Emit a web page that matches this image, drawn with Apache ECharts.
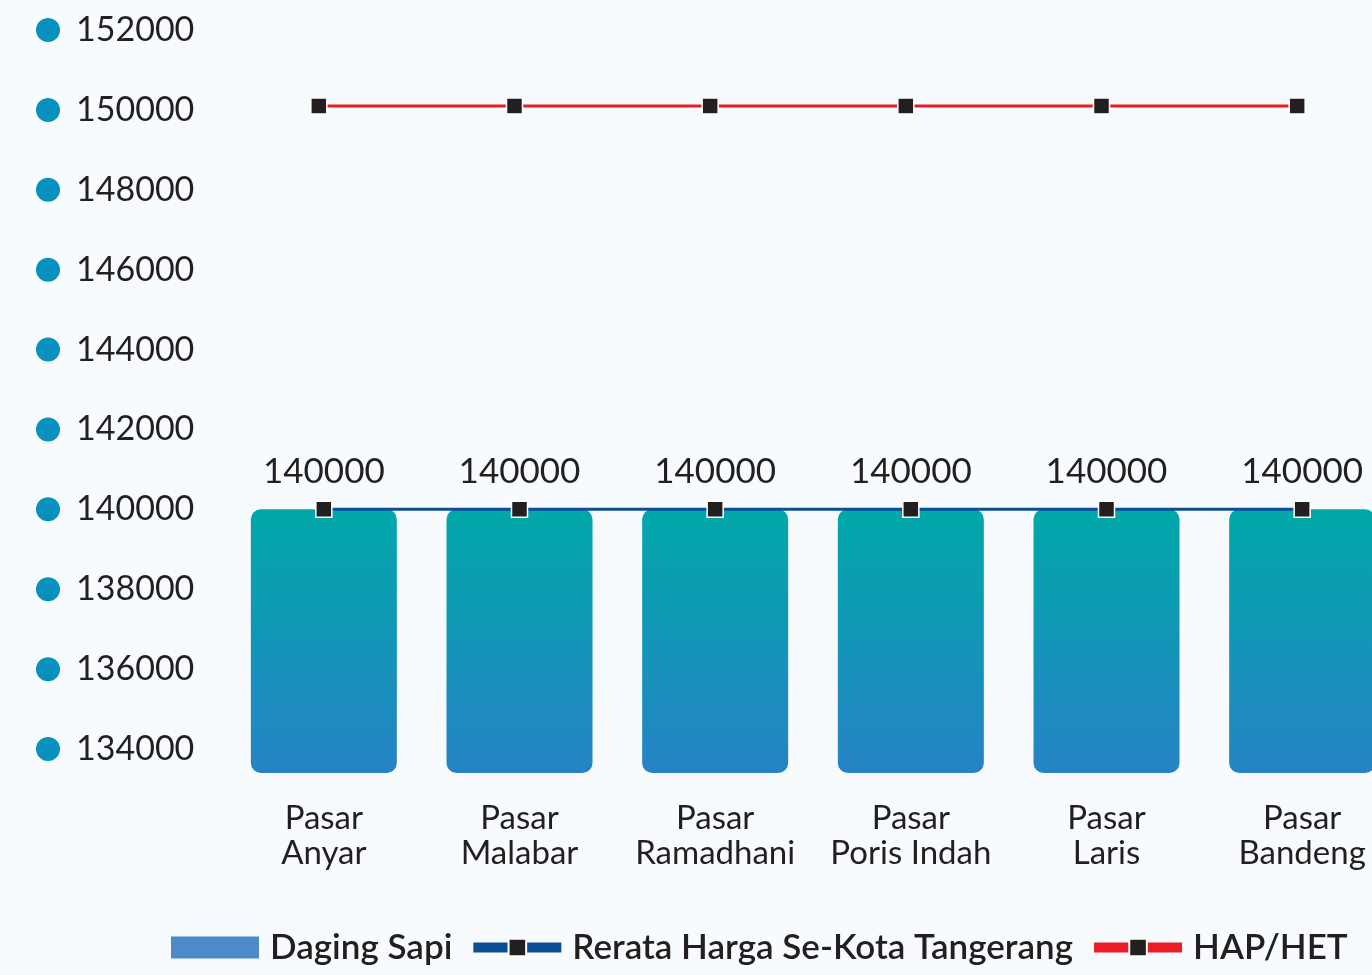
<!DOCTYPE html>
<html>
<head>
<meta charset="utf-8">
<script src="https://cdn.jsdelivr.net/npm/echarts@6/dist/echarts.min.js"></script>
<style>
  html, body { margin: 0; padding: 0; background: #f7fbfe; }
  #chart { width: 1372px; height: 975px; }
</style>
</head>
<body>
<div id="chart"></div>
<script>
const markets = ['Pasar\nAnyar', 'Pasar\nMalabar', 'Pasar\nRamadhani', 'Pasar\nPoris Indah', 'Pasar\nLaris', 'Pasar\nBandeng']
const dagingSapi = [140000, 140000, 140000, 140000, 140000, 140000]
const rerataKota = [140000, 140000, 140000, 140000, 140000, 140000]
const hapHet = [150000, 150000, 150000, 150000, 150000, 150000]
const yTicks = [134000, 136000, 138000, 140000, 142000, 144000, 146000, 148000, 150000, 152000]

const FONT = 'Lato'
const chart = echarts.init(document.getElementById('chart'))

const yBase = { type: 'value', min: 133400, max: 152000, splitLine: { show: false }, axisLine: { show: false }, axisTick: { show: false } }
const xBase = { type: 'category', data: markets, axisLine: { show: false }, axisTick: { show: false } }

chart.setOption({
  backgroundColor: '#f7fbfe',
  textStyle: { fontFamily: FONT },
  grid: [
    { left: 226, right: -28, top: 30, bottom: 202, outerBoundsMode: 'none' },
    { left: 221, right: -23, top: 26, bottom: 206, outerBoundsMode: 'none' }
  ],
  xAxis: [
    {
      ...xBase, gridIndex: 0,
      axisLabel: { margin: 28, color: '#231f20', fontSize: 33, lineHeight: 35, fontFamily: FONT, interval: 0 }
    },
    { ...xBase, gridIndex: 1, axisLabel: { show: false } }
  ],
  yAxis: [
    {
      ...yBase, gridIndex: 0,
      axisLabel: {
        customValues: yTicks,
        align: 'left',
        margin: 190,
        formatter: v => '{dot|}{v|' + v + '}',
        rich: {
          dot: { width: 24, height: 24, borderRadius: 12, backgroundColor: '#0891bf' },
          v: { fontSize: 34, color: '#231f20', fontFamily: FONT, padding: [0, 0, 0, 16] }
        }
      }
    },
    { ...yBase, gridIndex: 1, axisLabel: { show: false } }
  ],
  legend: {
    left: 166,
    bottom: 5,
    width: 1350,
    itemWidth: 88,
    itemHeight: 22,
    itemGap: 16,
    textStyle: { fontSize: 35, fontWeight: 600, color: '#231f20', fontFamily: FONT, padding: [0, 0, 0, 6] },
    data: [
      { name: 'Daging Sapi', icon: 'rect', itemStyle: { color: '#4d8aca' } },
      { name: 'Rerata Harga Se-Kota Tangerang', lineStyle: { width: 10 } },
      { name: 'HAP/HET', lineStyle: { width: 10 } }
    ]
  },
  series: [
    {
      name: 'Daging Sapi',
      type: 'bar',
      xAxisIndex: 0, yAxisIndex: 0,
      data: dagingSapi,
      barWidth: 146,
      itemStyle: {
        borderRadius: 10,
        color: new echarts.graphic.LinearGradient(0, 0, 0, 1, [
          { offset: 0, color: '#00a8a8' },
          { offset: 1, color: '#2683c6' }
        ])
      },
      label: { show: true, position: 'top', distance: 20, fontSize: 35, color: '#231f20', fontFamily: FONT }
    },
    {
      name: 'Rerata Harga Se-Kota Tangerang',
      type: 'line',
      xAxisIndex: 0, yAxisIndex: 0,
      data: rerataKota,
      symbol: 'rect',
      symbolSize: 16,
      lineStyle: { color: '#0c4f96', width: 3 },
      itemStyle: { color: '#231f20', borderColor: '#ffffff', borderWidth: 1.5 },
      z: 5
    },
    {
      name: 'HAP/HET',
      type: 'line',
      xAxisIndex: 1, yAxisIndex: 1,
      data: hapHet,
      symbol: 'rect',
      symbolSize: 16,
      lineStyle: { color: '#ed1c24', width: 3 },
      itemStyle: { color: '#231f20', borderColor: '#ffffff', borderWidth: 1.5 },
      z: 5
    }
  ]
})
</script>
</body>
</html>
